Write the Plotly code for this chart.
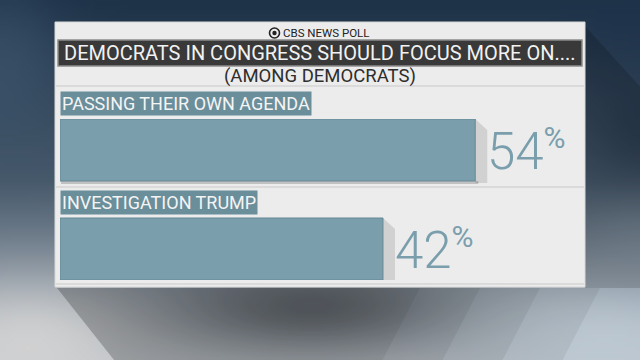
import base64, struct, zlib
import numpy as np
import plotly.graph_objects as go

# ---------------- data ----------------
categories = ["PASSING THEIR OWN AGENDA", "INVESTIGATION TRUMP"]
values = [54, 42]
brand = "CBS NEWS POLL"
title = "DEMOCRATS IN CONGRESS SHOULD FOCUS MORE ON...."
subtitle = "(AMONG DEMOCRATS)"

# ---------------- layout geometry ----------------
W, H = 640, 360
L, R, T, B = 60, 60, 119, 80
PW, PH = W - L - R, H - T - B
XMAX = PW / 7.69          # ~7.69 px per percent point


def px(x):
    return (x - L) / PW


def py(y):
    return (H - B - y) / PH


# ---------------- background image (sky / clouds) ----------------
bw, bh = 160, 90
yy, xx = np.mgrid[0:bh, 0:bw].astype(float)
X = xx / bw * W
Y = yy / bh * H
t = Y / H
top = np.array([30, 50, 72], float)
mid = np.array([72, 90, 108], float)
bot = np.array([190, 196, 202], float)
col = np.where(t[..., None] < 0.5,
               top + (mid - top) * (t[..., None] / 0.5),
               mid + (bot - mid) * ((t[..., None] - 0.5) / 0.5))


def blob(cx, cy, rx, ry, c, a):
    g = np.exp(-(((X - cx) / rx) ** 2 + ((Y - cy) / ry) ** 2))[..., None] * a
    return g, np.array(c, float)


for cx, cy, rx, ry, c, a in [
    (0, 60, 60, 80, (62, 88, 112), 0.6),
    (640, 130, 50, 60, (35, 52, 72), 0.6),
    (640, 260, 60, 60, (130, 145, 160), 0.6),
    (30, 340, 120, 60, (212, 212, 212), 0.9),
    (600, 340, 170, 60, (190, 202, 212), 0.9),
    (310, 305, 130, 40, (95, 100, 106), 0.85),
    (640, 20, 80, 60, (30, 50, 74), 0.6),
]:
    g, cc = blob(cx, cy, rx, ry, c, a)
    col = col * (1 - g) + cc * g

img = np.clip(col, 0, 255).astype(np.uint8)
raw = b"".join(b"\x00" + img[r].tobytes() for r in range(bh))


def chunk(tag, data):
    c = struct.pack(">I", len(data)) + tag + data
    return c + struct.pack(">I", zlib.crc32(tag + data) & 0xffffffff)


png = (b"\x89PNG\r\n\x1a\n" + chunk(b"IHDR", struct.pack(">IIBBBBB", bw, bh, 8, 2, 0, 0, 0))
       + chunk(b"IDAT", zlib.compress(raw, 9)) + chunk(b"IEND", b""))
bg_uri = "data:image/png;base64," + base64.b64encode(png).decode()

# ---------------- figure ----------------
BAR = "#7a9eac"
FONT = "Roboto, 'Open Sans', sans-serif"
bar_w = 62 / 99
ypos = list(range(len(categories)))

fig = go.Figure()
fig.add_trace(go.Bar(
    y=ypos, x=values, orientation="h", width=bar_w,
    marker=dict(color=BAR, line=dict(color="#668896", width=1)),
    hoverinfo="skip",
))

shapes = []
# panel shadows (right strip and bottom-left, soft right edge)
shapes.append(dict(type="path", xref="paper", yref="paper", layer="below",
                   path=f"M {px(585)} {py(26)} L {px(645)} {py(92)} L {px(645)} {py(288)} "
                        f"L {px(585)} {py(288)} Z",
                   fillcolor="rgba(0,0,0,0.15)", line=dict(width=0)))
for xr in [380, 440, 500, 560]:
    shapes.append(dict(type="path", xref="paper", yref="paper", layer="below",
                       path=f"M {px(57)} {py(288)} L {px(xr + 40)} {py(288)} L {px(xr)} {py(365)} "
                            f"L {px(118)} {py(365)} Z",
                       fillcolor="rgba(0,0,0,0.06)", line=dict(width=0)))
# panel
shapes.append(dict(type="rect", xref="paper", yref="paper", layer="below",
                   x0=px(55), x1=px(585), y0=py(287), y1=py(22),
                   fillcolor="#ececec", line=dict(color="#d8d8d8", width=1)))
# banner
shapes.append(dict(type="rect", xref="paper", yref="paper", layer="below",
                   x0=px(58), x1=px(582), y0=py(66), y1=py(40),
                   fillcolor="#393939", line=dict(color="#8c8c8c", width=1.5)))
# separator lines
for yl in [86, 187, 284]:
    shapes.append(dict(type="line", xref="paper", yref="paper", layer="below",
                       x0=px(56), x1=px(584), y0=py(yl), y1=py(yl),
                       line=dict(color="#c9c9c9", width=1)))
# CBS eye logo
shapes.append(dict(type="circle", xref="paper", yref="paper", layer="above",
                   x0=px(269.5), x1=px(279.5), y0=py(38), y1=py(28),
                   fillcolor="#ececec", line=dict(color="#222", width=1.6)))
shapes.append(dict(type="circle", xref="paper", yref="paper", layer="above",
                   x0=px(272.3), x1=px(276.7), y0=py(35.2), y1=py(30.8),
                   fillcolor="#222", line=dict(width=0)))
# 3D wall at bar ends and drop shadow under bars
for i, v in zip(ypos, values):
    shapes.append(dict(type="path", xref="x", yref="y", layer="below",
                       xsizemode="pixel", ysizemode="pixel", xanchor=v, yanchor=i,
                       path="M 0 31 L 12 20 L 12 -33 L 0 -33 Z",
                       fillcolor="rgba(170,170,170,0.4)", line=dict(width=0)))
    shapes.append(dict(type="path", xref="x", yref="y", layer="below",
                       xsizemode="pixel", ysizemode="pixel", xanchor=0, yanchor=i,
                       path=f"M 1 -31 L 1 -34 L {v*7.69+3} -34 L {v*7.69+3} -31 Z",
                       fillcolor="rgba(0,0,0,0.18)", line=dict(width=0)))

annotations = [
    dict(text=brand, xref="paper", yref="paper", x=px(281), y=py(33),
         xanchor="left", yanchor="middle", showarrow=False,
         font=dict(family=FONT, size=11.5, color="#222")),
    dict(text=title, xref="paper", yref="paper", x=px(320), y=py(53),
         xanchor="center", yanchor="middle", showarrow=False,
         font=dict(family=FONT, size=20, color="#f2f2f2")),
    dict(text=subtitle, xref="paper", yref="paper", x=px(320), y=py(76),
         xanchor="center", yanchor="middle", showarrow=False,
         font=dict(family=FONT, size=18.5, color="#2e2e2e")),
]
for i, (c, v) in zip(ypos, zip(categories, values)):
    annotations.append(dict(
        text=c, x=0, y=i, xref="x", yref="y", xanchor="left", yanchor="middle",
        yshift=47, xshift=0, showarrow=False, bgcolor="#6b8e9b",
        borderpad=1, font=dict(family=FONT, size=18, color="#f4f4f4")))
    annotations.append(dict(
        text=f"{v}<sup><span style='font-size:30px;font-weight:400'>%</span></sup>",
        x=v, y=i, xref="x", yref="y", xanchor="left", yanchor="middle",
        xshift=10, yshift=0, showarrow=False,
        font=dict(family=FONT, size=51, color=BAR, weight=300)))

fig.update_layout(
    width=W, height=H, margin=dict(l=L, r=R, t=T, b=B),
    paper_bgcolor="#6a7a8a", plot_bgcolor="rgba(0,0,0,0)",
    showlegend=False, bargap=0,
    xaxis=dict(range=[0, XMAX], visible=False, fixedrange=True),
    yaxis=dict(range=[len(categories) - 1 + bar_w / 2, -bar_w / 2],
               visible=False, fixedrange=True),
    shapes=shapes, annotations=annotations,
    images=[dict(source=bg_uri, xref="paper", yref="paper",
                 x=px(0), y=py(0), sizex=W / PW, sizey=H / PH,
                 xanchor="left", yanchor="top", sizing="stretch", layer="below")],
)

fig.write_html("out.html", config={"displayModeBar": False, "staticPlot": True},
               post_script="document.body.style.margin='0';document.body.style.overflow='hidden';")
